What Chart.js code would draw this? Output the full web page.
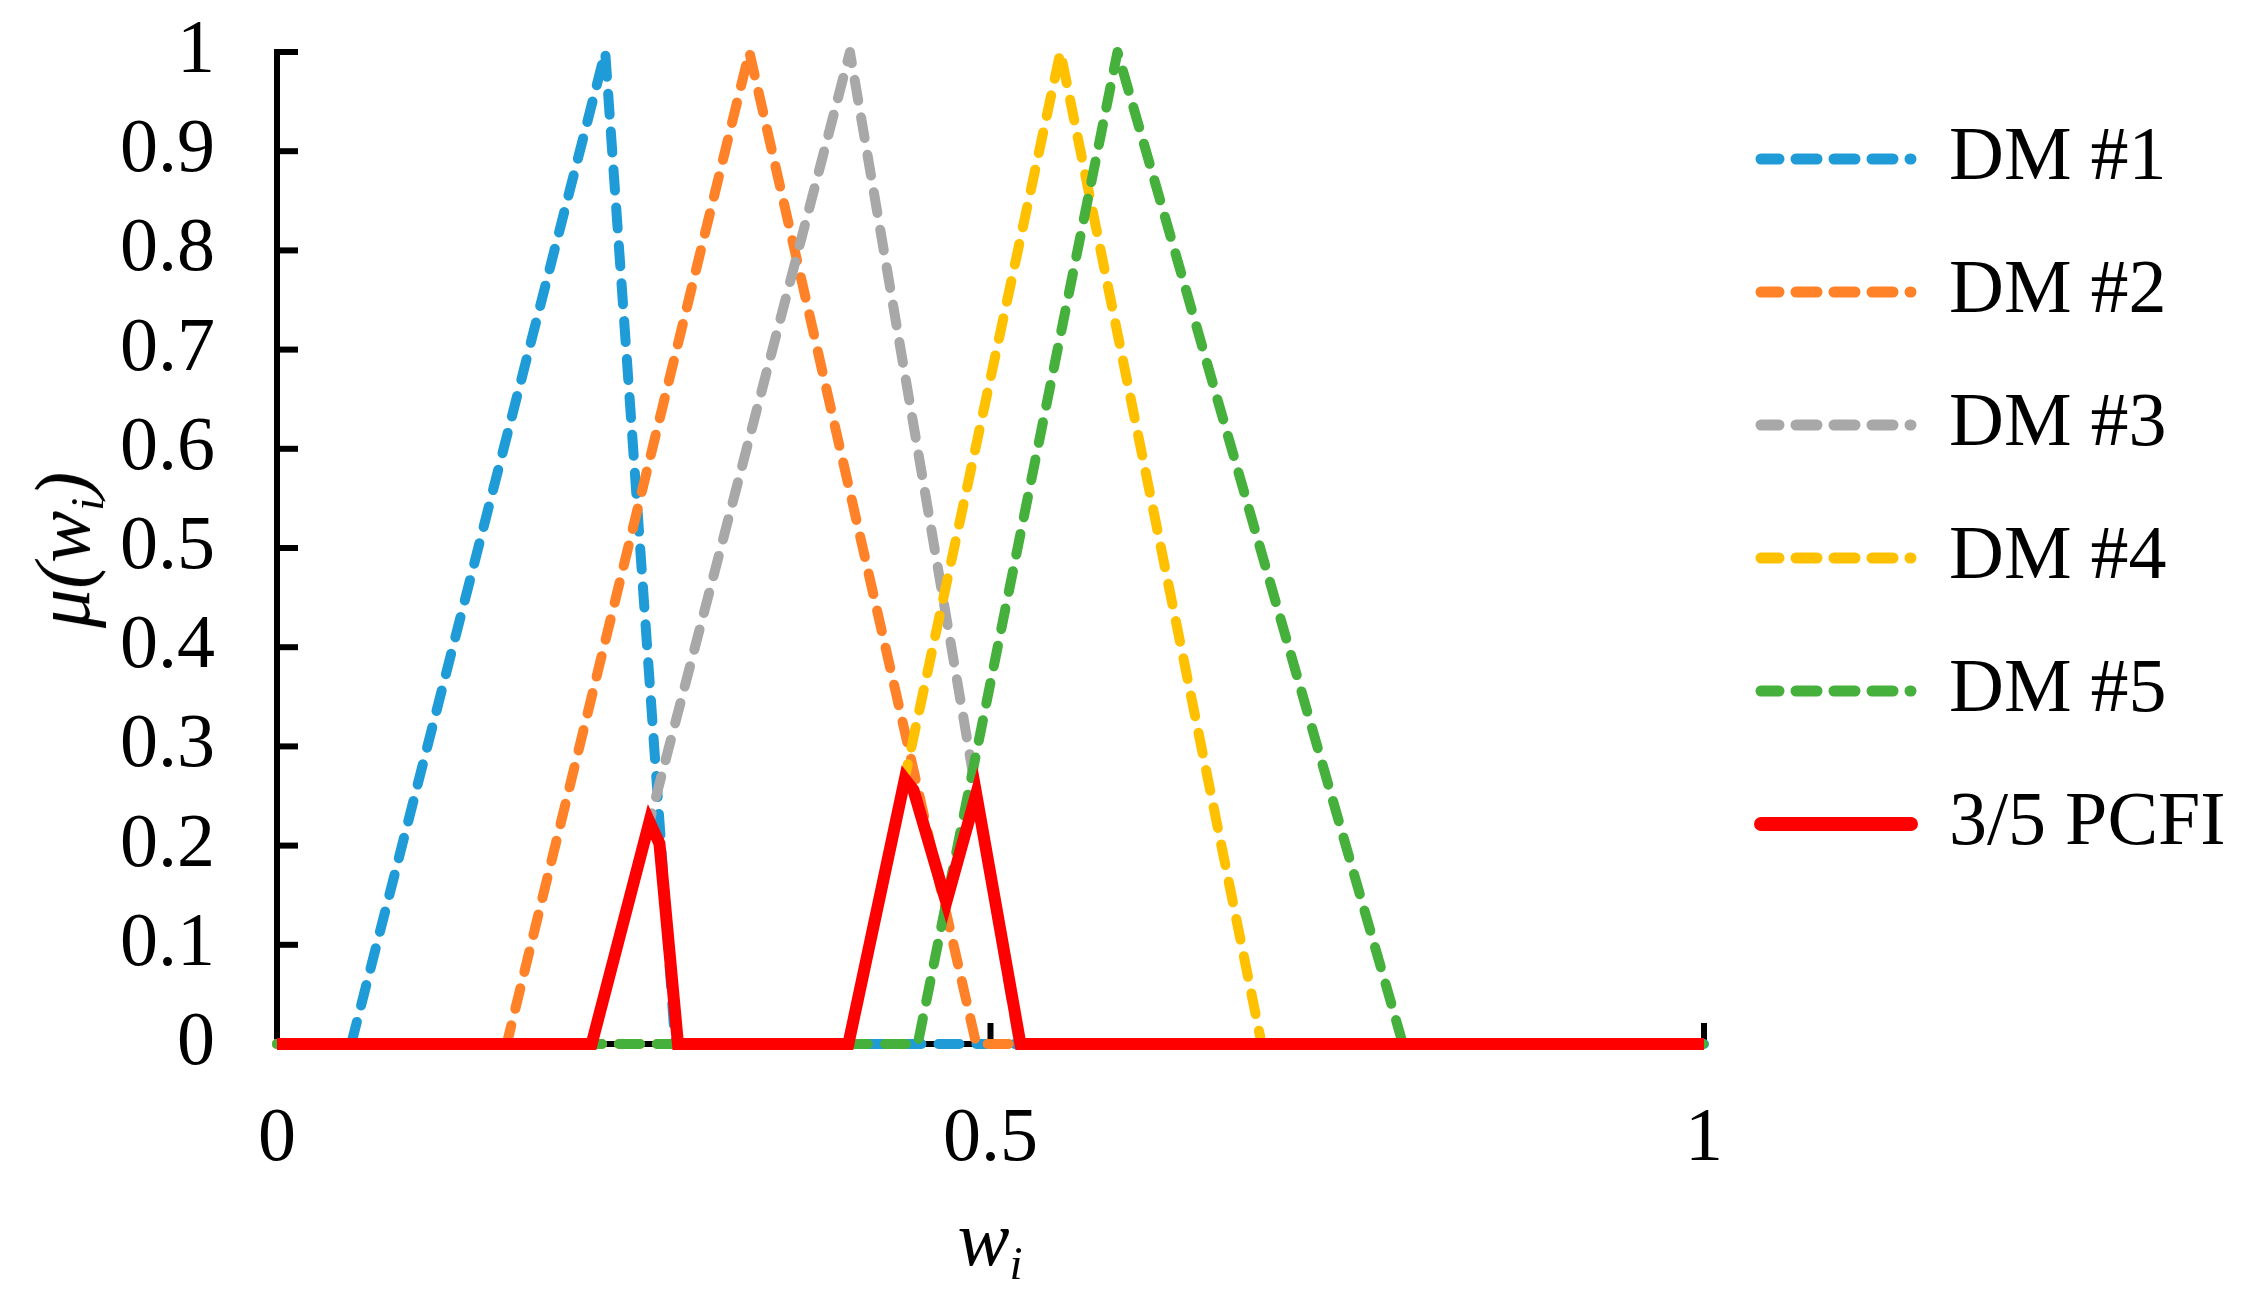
<!DOCTYPE html>
<html>
<head>
<meta charset="utf-8">
<title>3/5 PCFI</title>
<script src="https://cdn.jsdelivr.net/npm/chart.js@4.4.1/dist/chart.umd.min.js"></script>
<style>
  body { margin: 0; background: #fff; }
  #wrap { position: relative; width: 2249px; height: 1302px; }
  .axis-title {
    position: absolute;
    font-family: 'Liberation Serif', 'Times New Roman', serif;
    font-style: italic;
    font-size: 78px;
    line-height: 1;
    white-space: nowrap;
    color: #000;
  }
  .axis-title sub { font-size: 0.6em; vertical-align: baseline; position: relative; top: 0.3em; }
  #y-title { left: 63px; top: 550px; transform: translate(-50%, -50%) rotate(-90deg); }
  #x-title { left: 990px; top: 1200px; transform: translateX(-50%); }
</style>
</head>
<body>
<div id="wrap">
  <canvas id="chart" width="2249" height="1302"></canvas>
  <div class="axis-title" id="y-title">μ(w<sub>i</sub>)</div>
  <div class="axis-title" id="x-title">w<sub>i</sub></div>
</div>
<script>
// membership functions, [w, mu] vertices
const dm1 = [[0, 0], [0.052, 0], [0.230, 1], [0.279, 0], [1, 0]];
const dm2 = [[0, 0], [0.161, 0], [0.331, 1], [0.490, 0], [1, 0]];
const dm3 = [[0, 0], [0.2205, 0], [0.4015, 1], [0.520, 0], [1, 0]];
const dm4 = [[0, 0], [0.400, 0], [0.549, 1], [0.690, 0], [1, 0]];
const dm5 = [[0, 0], [0.449, 0], [0.589, 1], [0.789, 0], [1, 0]];
const pcfi = [[0, 0], [0.2205, 0], [0.261, 0.224], [0.268, 0.202], [0.281, 0],
              [0.4004, 0], [0.440, 0.267], [0.446, 0.256], [0.469, 0.143],
              [0.490, 0.252], [0.521, 0], [1, 0]];

const seriesNames = ['DM #1', 'DM #2', 'DM #3', 'DM #4', 'DM #5', '3/5 PCFI'];
const seriesData = [dm1, dm2, dm3, dm4, dm5, pcfi];
const seriesColors = ['#1f9bd7', '#ff8128', '#a8a8a8', '#ffc000', '#45b03b', '#ff0000'];

const xTickValues = [0, 0.5, 1];
const yTickValues = [0, 0.1, 0.2, 0.3, 0.4, 0.5, 0.6, 0.7, 0.8, 0.9, 1];

const serif = "'Liberation Serif', 'Times New Roman', serif";
Chart.defaults.font.family = serif;
Chart.defaults.color = '#000';

const dash = [21, 17];

// inward tick marks like the original
const innerTicks = {
  id: 'innerTicks',
  beforeDatasetsDraw(chart) {
    const { ctx, chartArea, scales: { x, y } } = chart;
    ctx.save();
    ctx.strokeStyle = '#000';
    ctx.lineWidth = 6;
    y.ticks.forEach(t => {
      const py = y.getPixelForValue(t.value);
      ctx.beginPath();
      ctx.moveTo(chartArea.left - 3, py);
      ctx.lineTo(chartArea.left + 21, py);
      ctx.stroke();
    });
    x.ticks.forEach(t => {
      if (t.value === 0) return;
      const px = x.getPixelForValue(t.value);
      ctx.beginPath();
      ctx.moveTo(px, chartArea.bottom + 3);
      ctx.lineTo(px, chartArea.bottom - 21);
      ctx.stroke();
    });
    ctx.restore();
  }
};

const datasets = seriesData.map((pts, i) => {
  const isPcfi = i === seriesData.length - 1;
  return {
    label: seriesNames[i],
    data: pts.map(([x, y]) => ({ x, y })),
    borderColor: seriesColors[i],
    backgroundColor: seriesColors[i],
    borderWidth: isPcfi ? 12 : 10,
    borderDash: isPcfi ? [] : dash,
    borderCapStyle: isPcfi ? 'butt' : 'round',
    borderJoinStyle: isPcfi ? 'miter' : 'round',
    pointRadius: 0,
    tension: 0,
    fill: false,
    clip: false,
    order: seriesData.length - 1 - i
  };
});

new Chart(document.getElementById('chart'), {
  type: 'line',
  data: { datasets },
  plugins: [innerTicks],
  options: {
    responsive: false,
    animation: false,
    events: [],
    layout: { padding: { top: 52, right: 15, bottom: 0, left: 0 } },
    scales: {
      x: {
        type: 'linear',
        min: 0,
        max: 1,
        afterBuildTicks: s => { s.ticks = xTickValues.map(v => ({ value: v })); },
        afterFit: s => { s.height = 258; s.paddingLeft = 0; s.paddingRight = 0; },
        grid: { display: false, drawTicks: false },
        border: { display: true, color: '#000', width: 6 },
        ticks: {
          padding: 50,
          autoSkip: false,
          maxRotation: 0,
          font: { size: 76, family: serif },
          color: '#000',
          callback: v => String(v)
        }
      },
      y: {
        type: 'linear',
        min: 0,
        max: 1,
        afterBuildTicks: s => { s.ticks = yTickValues.map(v => ({ value: v })); },
        afterFit: s => { s.width = 277; s.paddingTop = 0; s.paddingBottom = 0; },
        grid: { display: false, drawTicks: false },
        border: { display: true, color: '#000', width: 6 },
        ticks: {
          padding: 62,
          autoSkip: false,
          font: { size: 76, family: serif },
          color: '#000',
          callback: v => String(v)
        }
      }
    },
    plugins: {
      tooltip: { enabled: false },
      legend: {
        position: 'right',
        align: 'start',
        maxWidth: 530,
        title: { display: true, text: '', padding: 0, font: { size: 12, lineHeight: 1 } },
        labels: {
          usePointStyle: true,
          pointStyle: 'line',
          pointStyleWidth: 150,
          padding: 57,
          color: '#000',
          font: { size: 76, family: serif },
          sort: (a, b) => a.datasetIndex - b.datasetIndex,
          generateLabels(chart) {
            const items = Chart.defaults.plugins.legend.labels.generateLabels(chart);
            items.forEach(it => {
              const ds = chart.data.datasets[it.datasetIndex];
              const solid = ds.borderDash.length === 0;
              it.lineWidth = solid ? 14 : 11;
              it.lineDash = ds.borderDash;
              it.lineCap = 'round';
              it.lineDashOffset = 3;
            });
            return items;
          }
        }
      }
    }
  }
});
</script>
</body>
</html>
